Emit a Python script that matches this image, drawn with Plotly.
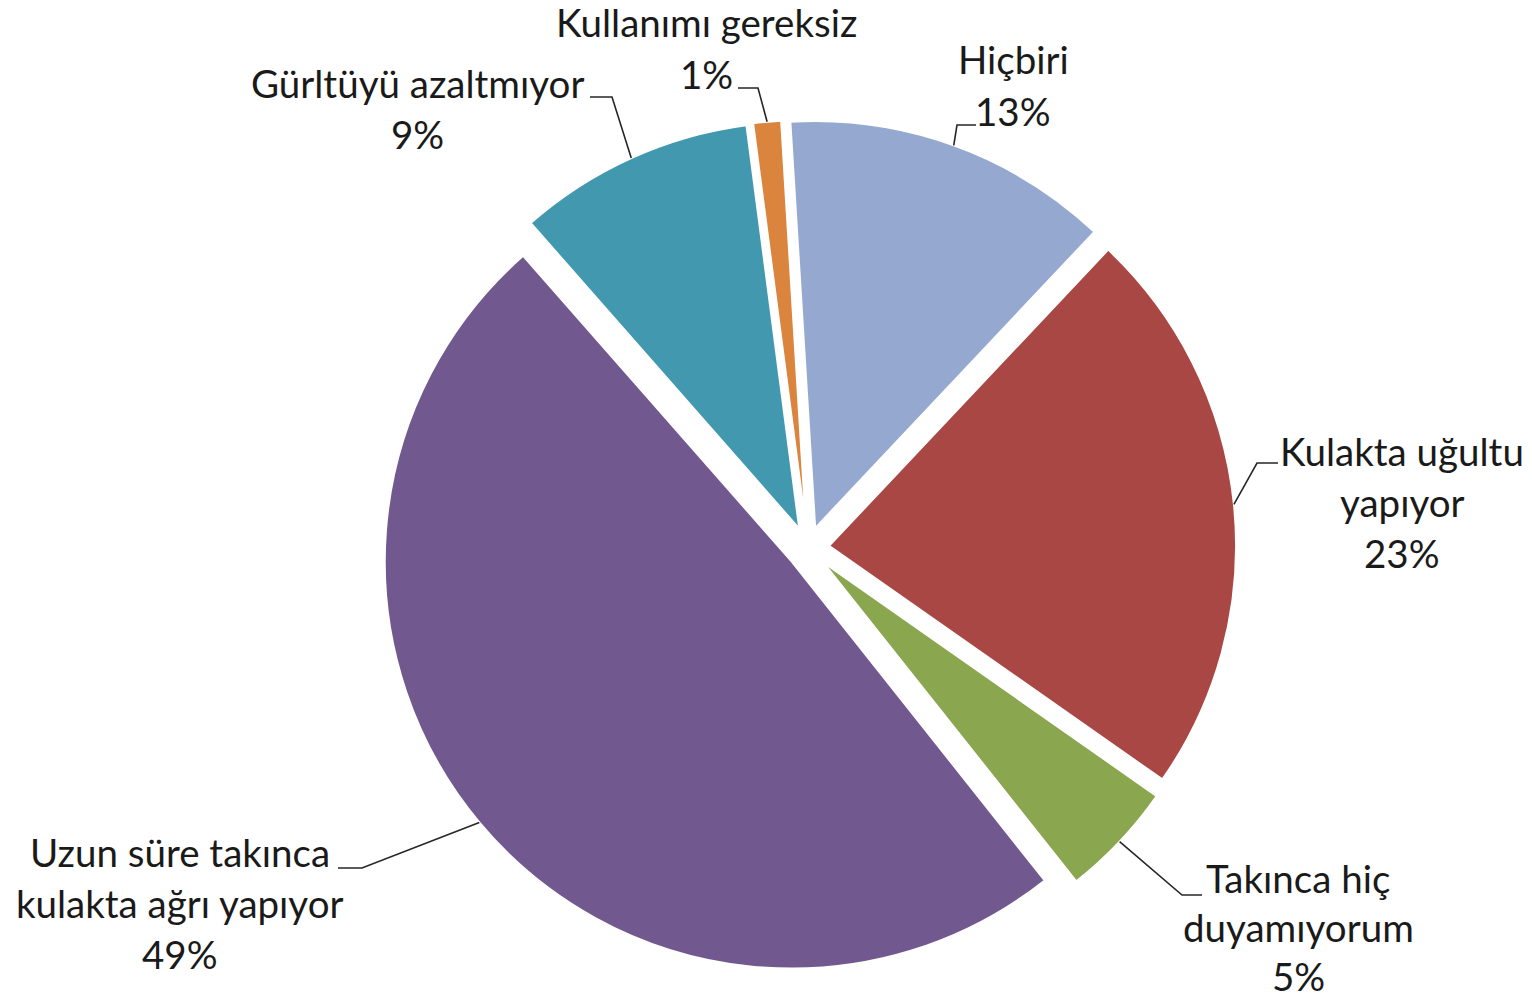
import math
import plotly.graph_objects as go

# ---------------- data ----------------
categories = [
    "Hiçbiri",
    "Kulakta uğultu yapıyor",
    "Takınca hiç duyamıyorum",
    "Uzun süre takınca kulakta ağrı yapıyor",
    "Gürltüyü azaltmıyor",
    "Kullanımı gereksiz",
]
label_lines = [
    ["Hiçbiri"],
    ["Kulakta uğultu", "yapıyor"],
    ["Takınca hiç", "duyamıyorum"],
    ["Uzun süre takınca", "kulakta ağrı yapıyor"],
    ["Gürltüyü azaltmıyor"],
    ["Kullanımı gereksiz"],
]
# shares (%); labels show them rounded
percentages = [13.0, 22.7, 4.6, 49.2, 9.4, 1.1]
colors = ["#95A9D0", "#A94744", "#8AA64E", "#71588F", "#4198AF", "#DB843D"]

# ---------------- layout / style ----------------
W, H = 1532, 1000
CX, CY, R, PULL = 808, 548, 407, 0.052
ROTATION = -3.5
FONT = "Lato"
FS = 38.5
LINE_GAP = 51
TEXT_COLOR = "#1a1a1a"

# label text block position (center x, center y of first line) and leader end / elbow offset
label_layout = [
    dict(x=1013, y=59, gap=52, end=(976, 125), elbow_dx=-19),
    dict(x=1402, y=451, gap=51, end=(1278, 463), elbow_dx=-21),
    dict(x=1298, y=878, gap=49, end=(1202, 895), elbow_dx=-20),
    dict(x=180, y=852, gap=51, end=(338, 868), elbow_dx=24),
    dict(x=417, y=83, gap=51, end=(590, 97), elbow_dx=22),
    dict(x=706, y=22, gap=52, end=(738, 88), elbow_dx=20),
]

half = R * (1 + PULL)
dom_x = [(CX - half) / W, (CX + half) / W]
dom_y = [(H - CY - half) / H, (H - CY + half) / H]

fig = go.Figure()
fig.add_trace(go.Pie(
    labels=categories,
    values=percentages,
    sort=False,
    direction="clockwise",
    rotation=ROTATION,
    pull=[PULL] * len(percentages),
    marker=dict(colors=colors, line=dict(color="white", width=2)),
    textinfo="none",
    hoverinfo="label+percent",
    showlegend=False,
    domain=dict(x=dom_x, y=dom_y),
))


def to_paper(px, py):
    return px / W, 1 - py / H


total = sum(percentages)
cum = 0.0
annotations = []
shapes = []
for i, v in enumerate(percentages):
    mid = ROTATION + (cum + v / 2) / total * 360.0
    cum += v
    a = math.radians(mid)
    dx, dy = math.sin(a), -math.cos(a)
    sx = CX + R * (1 + PULL) * dx
    sy = CY + R * (1 + PULL) * dy
    lay = label_layout[i]
    ex, ey = lay["end"]
    bx, by = ex + lay["elbow_dx"], ey
    p0 = to_paper(sx, sy)
    p1 = to_paper(bx, by)
    p2 = to_paper(ex, ey)
    shapes.append(dict(
        type="path", xref="paper", yref="paper",
        path=f"M {p0[0]} {p0[1]} L {p1[0]} {p1[1]} L {p2[0]} {p2[1]}",
        line=dict(color="#262626", width=1.6), layer="above",
    ))
    lines = label_lines[i] + [f"{v / total * 100:.0f}%"]
    for j, t in enumerate(lines):
        px, py = to_paper(lay["x"], lay["y"] + j * lay["gap"])
        annotations.append(dict(
            text=t, x=px, y=py, xref="paper", yref="paper",
            xanchor="center", yanchor="middle", showarrow=False,
            font=dict(family=FONT, size=FS, color=TEXT_COLOR),
        ))

fig.update_layout(
    width=W, height=H,
    margin=dict(l=0, r=0, t=0, b=0),
    paper_bgcolor="white", plot_bgcolor="white",
    annotations=annotations, shapes=shapes,
    font=dict(family=FONT, size=FS, color=TEXT_COLOR),
)

fig.write_html(
    "out.html",
    config={"displayModeBar": False},
    post_script="document.body.style.margin='0';document.body.style.overflow='hidden';",
)
